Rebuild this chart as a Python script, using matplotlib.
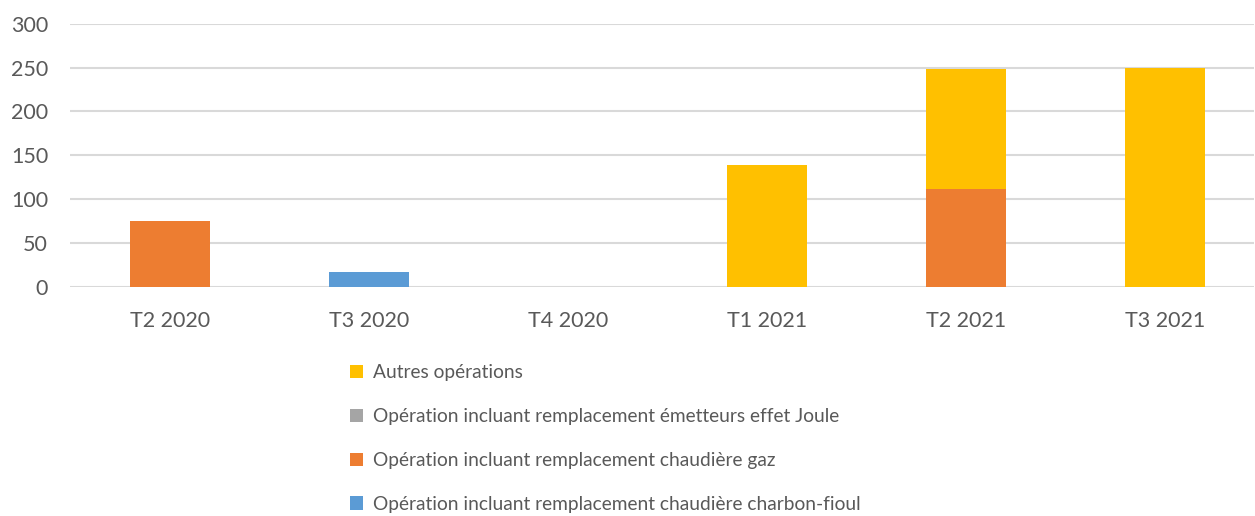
import numpy as np
import matplotlib
matplotlib.use("Agg")
import matplotlib.pyplot as plt

# données
trimestres = ["T2 2020", "T3 2020", "T4 2020", "T1 2021", "T2 2021", "T3 2021"]
charbon_fioul = [0, 17, 0, 0, 0, 0]
chaudiere_gaz = [75, 0, 0, 0, 112, 0]
effet_joule = [0, 0, 0, 0, 0, 0]
autres = [0, 0, 0, 139, 136, 249]

series = [
    ("Opération incluant remplacement chaudière charbon-fioul", charbon_fioul, "#5B9BD5"),
    ("Opération incluant remplacement chaudière gaz", chaudiere_gaz, "#ED7D31"),
    ("Opération incluant remplacement émetteurs effet Joule", effet_joule, "#A5A5A5"),
    ("Autres opérations", autres, "#FFC000"),
]

plt.rcParams['font.family'] = ['Lato', 'DejaVu Sans']
txt = "#595959"

fig = plt.figure(figsize=(12.55, 5.16), dpi=100)
ax = fig.add_axes([0.056, 0.444, 0.9434, 0.51])

x = np.arange(len(trimestres))
bas = np.zeros(len(trimestres))
handles = []
for nom, vals, coul in series:
    b = ax.bar(x, vals, 0.4, bottom=bas, color=coul, label=nom, zorder=3)
    bas += np.array(vals)
    handles.append(b)

ax.set_ylim(0, 300)
ax.set_xlim(-0.5, 5.45)
ax.set_yticks(range(0, 301, 50))
ax.set_xticks(x)
ax.set_xticklabels(trimestres)
ax.tick_params(axis='both', length=0, labelsize=15.5, colors=txt)
ax.tick_params(axis='x', pad=17)
ax.tick_params(axis='y', pad=16)
ax.grid(axis='y', color='#D9D9D9', linewidth=1.5, zorder=0)
for s in ax.spines.values():
    s.set_visible(False)

leg = fig.legend(handles[::-1], [h.get_label() for h in handles[::-1]],
                 loc='upper left', bbox_to_anchor=(0.279, 0.294),
                 frameon=False, fontsize=13.8, labelcolor=txt,
                 handlelength=0.68, handleheight=0.68, handletextpad=0.5,
                 labelspacing=1.4, borderaxespad=0, borderpad=0)

fig.savefig("out.png", dpi=100)
